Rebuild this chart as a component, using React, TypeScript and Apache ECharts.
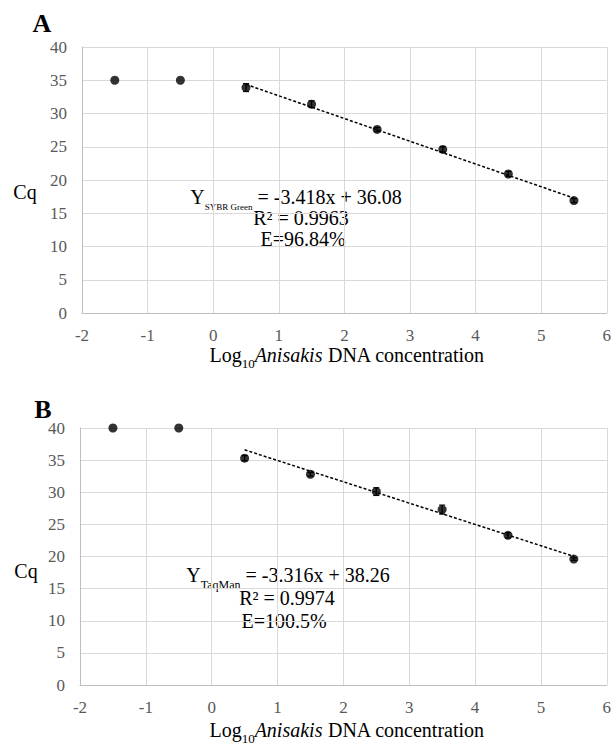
import React, { useEffect, useRef } from "react";
import * as echarts from "echarts";

// ---- data ----
const logConc = [-1.5, -0.5, 0.5, 1.5, 2.5, 3.5, 4.5, 5.5];
const cqSybr = [35, 35, 33.9, 31.4, 27.6, 24.6, 20.9, 16.9];
const sdSybr = [0, 0, 0.6, 0.5, 0.3, 0.4, 0.4, 0.3];
const cqTaq = [40, 40, 35.3, 32.8, 30.1, 27.3, 23.3, 19.6];
const sdTaq = [0, 0, 0.4, 0.3, 0.6, 0.7, 0.4, 0.2];
const fitRange = [0.5, 5.5];
const slopeSybr = -3.418;
const interceptSybr = 36.08;
const slopeTaq = -3.316;
const interceptTaq = 38.26;
const xTicks = [-2, 6, 1]; // min, max, interval
const yTicks = [0, 40, 5];

const FONT = "Liberation Serif";

function pts(ys: number[]) {
  return logConc.map((x, i) => [x, ys[i]]);
}
function errs(ys: number[], sd: number[]) {
  return logConc
    .map((x, i) => [x, ys[i], sd[i]])
    .filter((d) => d[2] > 0);
}
function fit(slope: number, intercept: number) {
  return fitRange.map((x) => [x, slope * x + intercept]);
}

const errRender = (params: any, api: any) => {
  const x = api.value(0);
  const y = api.value(1);
  const e = api.value(2);
  const hi = api.coord([x, y + e]);
  const lo = api.coord([x, y - e]);
  const hw = 3;
  const st = { stroke: "#000", lineWidth: 1.2 };
  return {
    type: "group",
    children: [
      { type: "line", shape: { x1: hi[0], y1: hi[1], x2: lo[0], y2: lo[1] }, style: st },
      { type: "line", shape: { x1: hi[0] - hw, y1: hi[1], x2: hi[0] + hw, y2: hi[1] }, style: st },
      { type: "line", shape: { x1: lo[0] - hw, y1: lo[1], x2: lo[0] + hw, y2: lo[1] }, style: st },
    ],
  };
};

function xAxisCfg(gi: number) {
  return {
    type: "value",
    gridIndex: gi,
    min: xTicks[0],
    max: xTicks[1],
    interval: xTicks[2],
    axisLine: { show: true, onZero: false, lineStyle: { color: "#bfbfbf", width: 1 } },
    axisTick: { show: false },
    splitLine: { show: true, lineStyle: { color: "#d9d9d9", width: 1 } },
    axisLabel: { color: "#595959", fontFamily: FONT, fontSize: 17, margin: 14 },
  };
}
function yAxisCfg(gi: number) {
  return {
    type: "value",
    gridIndex: gi,
    min: yTicks[0],
    max: yTicks[1],
    interval: yTicks[2],
    axisLine: { show: true, onZero: false, lineStyle: { color: "#bfbfbf", width: 1 } },
    axisTick: { show: false },
    splitLine: { show: true, lineStyle: { color: "#d9d9d9", width: 1 } },
    axisLabel: { color: "#595959", fontFamily: FONT, fontSize: 17, margin: 15 },
  };
}

const LH = 20;
const rich = {
  m: { fontFamily: FONT, fontSize: 20, fill: "#000", lineHeight: LH, verticalAlign: "middle" },
  it: { fontFamily: FONT, fontSize: 20, fontStyle: "italic", fill: "#000", lineHeight: LH, verticalAlign: "middle" },
  s: { fontFamily: FONT, fontSize: 12, fill: "#000", lineHeight: LH, padding: [19, 0, 0, 0], verticalAlign: "middle" },
  ss: { fontFamily: FONT, fontSize: 9, fill: "#000", lineHeight: LH, padding: [20, 0, 0, 0], verticalAlign: "middle" },
  l: { fontFamily: FONT, fontSize: 13, fill: "#000", lineHeight: LH, padding: [16, 0, 0, 0], verticalAlign: "middle" },
};

function txt(x: number, y: number, text: string, size = 20, weight = "normal") {
  return {
    type: "text",
    x,
    y,
    silent: true,
    style: {
      text,
      align: "center",
      verticalAlign: "middle",
      fontFamily: FONT,
      fontSize: size,
      fontWeight: weight,
      fill: "#000",
      rich,
    },
  };
}

export default function App() {
  const ref = useRef<HTMLDivElement>(null);
  useEffect(() => {
    if (!ref.current) return;
    const chart = echarts.init(ref.current, null, { renderer: "svg" });
    const option: any = {
      animation: false,
      backgroundColor: "#fff",
      textStyle: { fontFamily: FONT },
      grid: [
        { left: 82, top: 47, width: 528, height: 266 },
        { left: 80, top: 428, width: 532, height: 257 },
      ],
      xAxis: [xAxisCfg(0), xAxisCfg(1)],
      yAxis: [yAxisCfg(0), yAxisCfg(1)],
      series: [
        {
          type: "line",
          xAxisIndex: 0,
          yAxisIndex: 0,
          data: fit(slopeSybr, interceptSybr),
          symbol: "none",
          lineStyle: { color: "#000", width: 1.5, type: [3, 2] },
          z: 3,
        },
        {
          type: "custom",
          xAxisIndex: 0,
          yAxisIndex: 0,
          renderItem: errRender,
          data: errs(cqSybr, sdSybr),
          encode: { x: 0, y: 1 },
          z: 4,
        },
        {
          type: "scatter",
          xAxisIndex: 0,
          yAxisIndex: 0,
          data: pts(cqSybr),
          symbol: "circle",
          symbolSize: 9,
          itemStyle: { color: "#000" },
          z: 5,
        },
        {
          type: "line",
          xAxisIndex: 1,
          yAxisIndex: 1,
          data: fit(slopeTaq, interceptTaq),
          symbol: "none",
          lineStyle: { color: "#000", width: 1.5, type: [3, 2] },
          z: 3,
        },
        {
          type: "custom",
          xAxisIndex: 1,
          yAxisIndex: 1,
          renderItem: errRender,
          data: errs(cqTaq, sdTaq),
          encode: { x: 0, y: 1 },
          z: 4,
        },
        {
          type: "scatter",
          xAxisIndex: 1,
          yAxisIndex: 1,
          data: pts(cqTaq),
          symbol: "circle",
          symbolSize: 9,
          itemStyle: { color: "#000" },
          z: 5,
        },
      ],
      graphic: [
        txt(42, 23, "A", 26, "bold"),
        txt(43, 409, "B", 26, "bold"),
        txt(25, 192, "Cq"),
        txt(26, 571, "Cq"),
        txt(347, 355, "{m|Log}{l|10}{it|Anisakis}{m| DNA concentration}"),
        txt(347, 730, "{m|Log}{l|10}{it|Anisakis}{m| DNA concentration}"),
        txt(296, 197, "{m|Y}{ss|SYBR Green}{m| = -3.418x + 36.08}"),
        txt(301, 218, "R² = 0.9963"),
        txt(303, 239, "E=96.84%"),
        txt(288, 575, "{m|Y}{s|TaqMan}{m| = -3.316x + 38.26}"),
        txt(287, 598, "R² = 0.9974"),
        txt(284, 621, "E=100.5%"),
      ],
    };
    chart.setOption(option);
    return () => chart.dispose();
  }, []);
  return (
    <div
      ref={ref}
      style={{ position: "absolute", left: 0, top: 0, width: 614, height: 746, background: "#fff" }}
    />
  );
}
